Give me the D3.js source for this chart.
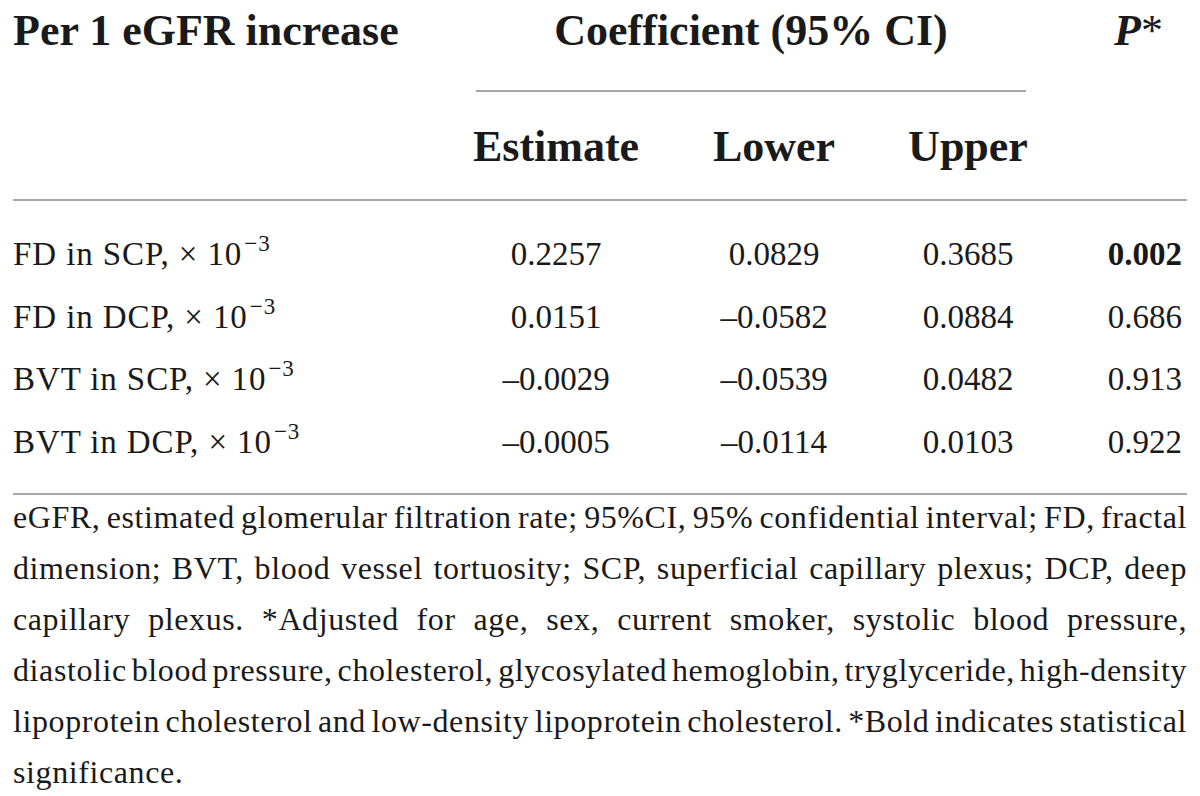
<!DOCTYPE html>
<html>
<head>
<meta charset="utf-8">
<script src="https://d3js.org/d3.v7.min.js"></script>
<style>
  body { margin: 0; background: #fff; }
  svg text { font-family: "Liberation Serif", "Times New Roman", serif; fill: #1a1a1a; }
</style>
</head>
<body>
<svg id="table" width="1200" height="796"></svg>
<script>
    // table content
    const headTitle = "Per 1 eGFR increase";
    const headCoef = "Coefficient (95% CI)";
    const subHeaders = ["Estimate", "Lower", "Upper"];
    const rowLabels = ["FD in SCP", "FD in DCP", "BVT in SCP", "BVT in DCP"];
    const estimate = ["0.2257", "0.0151", "\u20130.0029", "\u20130.0005"];
    const lower = ["0.0829", "\u20130.0582", "\u20130.0539", "\u20130.0114"];
    const upper = ["0.3685", "0.0884", "0.0482", "0.0103"];
    const pValues = ["0.002", "0.686", "0.913", "0.922"];
    const significant = [true, false, false, false];
    const footnote = [
        "eGFR, estimated glomerular filtration rate; 95%CI, 95% confidential interval; FD, fractal",
        "dimension; BVT, blood vessel tortuosity; SCP, superficial capillary plexus; DCP, deep",
        "capillary plexus. *Adjusted for age, sex, current smoker, systolic blood pressure,",
        "diastolic blood pressure, cholesterol, glycosylated hemoglobin, tryglyceride, high-density",
        "lipoprotein cholesterol and low-density lipoprotein cholesterol. *Bold indicates statistical",
        "significance."
    ];

    let svg = d3.select("svg#table");
    const left = 13, right = 1187;

    // column positions
    let colX = d3.scaleOrdinal()
        .domain(["estimate", "lower", "upper", "p"])
        .range([556, 774, 968, 1182]);
    let rowY = d3.scaleLinear().domain([0, rowLabels.length - 1]).range([265, 453]);
    let footY = d3.scaleLinear().domain([0, footnote.length - 1]).range([528, 783]);

    // header row 1
    svg.append("text")
        .attr("x", left).attr("y", 45)
        .style("font-size", "44px").style("font-weight", "bold")
        .text(headTitle);
    svg.append("text")
        .attr("x", 751).attr("y", 45)
        .attr("text-anchor", "middle")
        .style("font-size", "44px").style("font-weight", "bold")
        .text(headCoef);
    let pHead = svg.append("text")
        .attr("x", 1163).attr("y", 45)
        .attr("text-anchor", "end")
        .style("font-size", "44px").style("font-weight", "bold").style("font-style", "italic");
    pHead.append("tspan").text("P");
    pHead.append("tspan").style("font-style", "normal").style("font-weight", "normal").text("*");

    // sub headers
    ["estimate", "lower", "upper"].forEach(function(k, i) {
        svg.append("text")
            .attr("x", colX(k)).attr("y", 161)
            .attr("text-anchor", "middle")
            .style("font-size", "44px").style("font-weight", "bold")
            .text(subHeaders[i]);
    });

    // rules
    function rule(x1, x2, y) {
        svg.append("line")
            .attr("x1", x1).attr("x2", x2)
            .attr("y1", y).attr("y2", y)
            .style("stroke", "#a6a6a6")
            .style("stroke-width", 2);
    }
    rule(476, 1026, 91);
    rule(left, right, 200);
    rule(left, right, 494);

    // body rows
    rowLabels.forEach(function(d, i) {
        let t = svg.append("text")
            .attr("x", left).attr("y", rowY(i))
            .style("font-size", "33px")
            .style("letter-spacing", "0.9px");
        t.append("tspan").text(d + ", \u00d7 10");
        t.append("tspan").attr("dy", -14).attr("dx", 2).style("font-size", "23px").text("\u22123");

        svg.append("text").attr("x", colX("estimate")).attr("y", rowY(i))
            .attr("text-anchor", "middle").style("font-size", "33px").text(estimate[i]);
        svg.append("text").attr("x", colX("lower")).attr("y", rowY(i))
            .attr("text-anchor", "middle").style("font-size", "33px").text(lower[i]);
        svg.append("text").attr("x", colX("upper")).attr("y", rowY(i))
            .attr("text-anchor", "middle").style("font-size", "33px").text(upper[i]);
        svg.append("text").attr("x", colX("p")).attr("y", rowY(i))
            .attr("text-anchor", "end").style("font-size", "33px")
            .style("font-weight", significant[i] ? "bold" : "normal")
            .text(pValues[i]);
    });

    // footnote, justified line by line
    const footStyle = function(sel) {
        return sel.style("font-size", "32px").style("letter-spacing", "0.6px");
    };
    let probe = footStyle(svg.append("text")).attr("x", -2000).attr("y", -1000);
    function wordWidth(w) {
        probe.text(w);
        return probe.node().getComputedTextLength();
    }
    let spaceW = wordWidth("a a") - wordWidth("aa");
    footnote.forEach(function(line, i) {
        let words = line.split(" ");
        let widths = words.map(wordWidth);
        let total = d3.sum(widths);
        let last = i === footnote.length - 1;
        let gap = (last || words.length < 2) ? spaceW : (right - left - total) / (words.length - 1);
        let t = footStyle(svg.append("text")).attr("y", footY(i));
        let x = left;
        words.forEach(function(w, j) {
            t.append("tspan").attr("x", x).text(w);
            x += widths[j] + gap;
        });
    });
    probe.remove();
</script>
</body>
</html>
